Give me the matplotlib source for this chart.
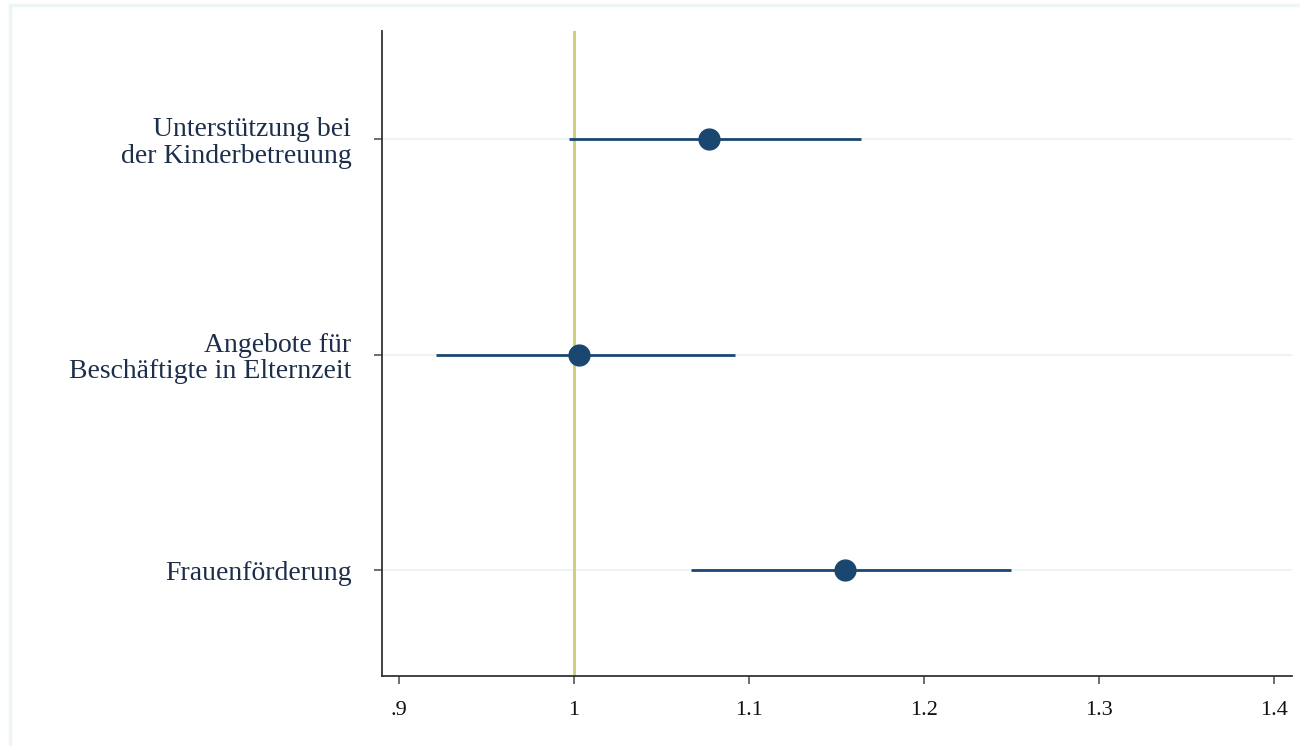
import matplotlib

matplotlib.use("Agg")
import matplotlib.pyplot as plt
from matplotlib.patches import Rectangle

# Coefficient plot (odds ratios with 95% CI)
labels = [
    "Unterstützung bei\nder Kinderbetreuung",
    "Angebote für\nBeschäftigte in Elternzeit",
    "Frauenförderung",
]
estimates = [1.077, 1.003, 1.155]
ci_low = [0.997, 0.921, 1.067]
ci_high = [1.164, 1.092, 1.250]
xticks = [0.9, 1.0, 1.1, 1.2, 1.3, 1.4]
xticklabels = [".9", "1", "1.1", "1.2", "1.3", "1.4"]

NAVY = "#1a476f"
REF = "#cfd07a"
GRID = "#eaf2f3"

plt.rcParams["font.family"] = ["Liberation Serif", "DejaVu Serif"]

fig = plt.figure(figsize=(13, 7.46), dpi=100)
fig.patch.set_facecolor("white")
# light outer frame (top/left edge visible only)
fig.patches.append(
    Rectangle((10 / 1300, -0.1), 1.2, 1.1 - 5 / 746, transform=fig.transFigure,
              facecolor="none", edgecolor="#eef5f7", linewidth=2.5, zorder=0)
)

ax = fig.add_axes([382 / 1300, 1 - 676 / 746, (1292 - 382) / 1300, (676 - 31) / 746])
ypos = [1, 2, 3]

for y in ypos:
    ax.axhline(y, color=GRID, linewidth=1.2, zorder=1)
ax.axvline(1.0, color=REF, linewidth=2.2, zorder=2)

ax.hlines(ypos, ci_low, ci_high, color=NAVY, linewidth=2, zorder=3)
ax.plot(estimates, ypos, "o", color=NAVY, markersize=15, zorder=4)

ax.set_xlim(0.8903, 1.4103)
ax.set_ylim(3.49, 0.5)
ax.set_xticks(xticks)
ax.set_xticklabels(xticklabels, fontsize=16, color="#111111")
ax.set_yticks(ypos)
ax.set_yticklabels(labels, fontsize=20, color="#1c2e4a", linespacing=1.1)
ax.tick_params(axis="both", length=6, width=1.2, color="#555555")
ax.tick_params(axis="y", pad=16)
ax.tick_params(axis="x", pad=12)

for side in ["top", "right"]:
    ax.spines[side].set_visible(False)
for side in ["left", "bottom"]:
    ax.spines[side].set_color("#333333")
    ax.spines[side].set_linewidth(1.3)
ax.set_facecolor("white")

fig.savefig("out.png", dpi=100)
